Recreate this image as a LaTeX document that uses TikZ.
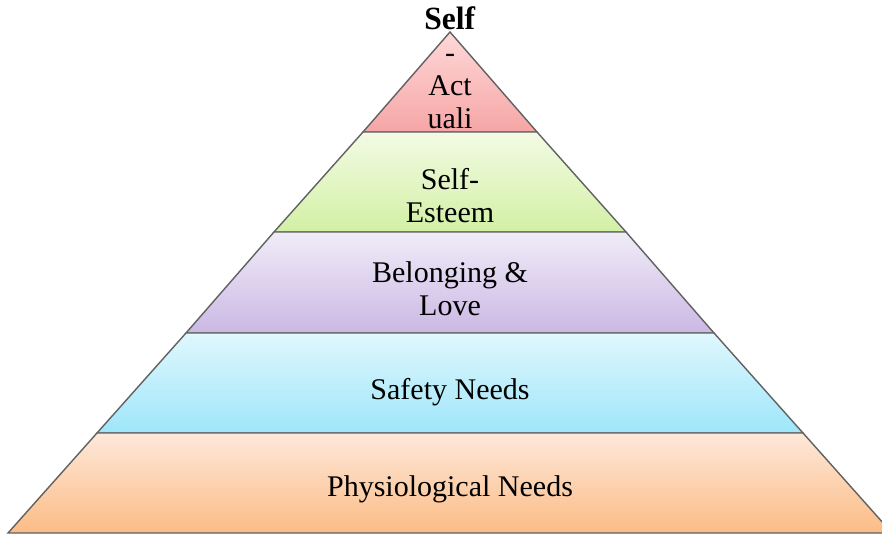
\documentclass[tikz,border=0pt]{standalone}
\usepackage{fontspec}
\setmainfont{Liberation Serif}
\begin{document}
\begin{tikzpicture}[x=1pt,y=1pt,
  layer/.style={draw=black!62, line width=1.4pt, line join=miter},
  lbl/.style={align=center, font=\fontsize{30}{33}\selectfont, inner sep=0pt}]
\useasboundingbox (0,0) rectangle (882,535);
\clip (0,0) rectangle (882,535);
% tiers of the pyramid, top to bottom
\shade[layer, top color={rgb,255:red,255;green,216;blue,216}, bottom color={rgb,255:red,246;green,166;blue,166}]
  (450,503) -- (537,403) -- (363,403) -- cycle;
\shade[layer, top color={rgb,255:red,243;green,251;blue,228}, bottom color={rgb,255:red,210;green,240;blue,165}]
  (363,403) -- (537,403) -- (626,303) -- (274,303) -- cycle;
\shade[layer, top color={rgb,255:red,240;green,236;blue,248}, bottom color={rgb,255:red,203;green,184;blue,228}]
  (274,303) -- (626,303) -- (714,202) -- (186,202) -- cycle;
\shade[layer, top color={rgb,255:red,224;green,247;blue,253}, bottom color={rgb,255:red,158;green,230;blue,250}]
  (186,202) -- (714,202) -- (803,102) -- (97,102) -- cycle;
\shade[layer, top color={rgb,255:red,254;green,232;blue,218}, bottom color={rgb,255:red,251;green,188;blue,133}]
  (97,102) -- (803,102) -- (892,2) -- (8,2) -- cycle;
% tier labels
\node[lbl] (selfact) at (450,467) {\scalebox{1.05}[1.08]{\textbf{Self}}\\-\\Act\\uali};
\node[lbl] (esteem) at (450,339) {Self-\\Esteem};
\node[lbl] (love) at (450,246) {Belonging \&\\Love};
\node[lbl] (safety) at (450,143) {Safety Needs};
\node[lbl] (phys) at (450,46) {Physiological Needs};
\end{tikzpicture}
\end{document}
